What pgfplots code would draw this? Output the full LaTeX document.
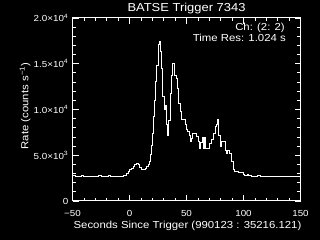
\documentclass[border=0pt]{standalone}
\usepackage{pgfplots}
\pgfplotsset{compat=1.18}
\usepackage{fontspec}
\setmainfont{Liberation Sans}[FakeStretch=1.12]
\pgfplotstableread{
t rate
-50 2770
-47.5 2720
-45 2700
-42 2740
-40 2690
-37 2700
-35 2680
-32 2720
-30 2700
-27 2740
-25 2690
-22 2700
-20 2720
-18 2800
-17 2700
-14 2680
-12 2710
-10 2690
-8.3 2660
-5.4 2840
-2.5 3020
-1.1 3200
0.4 3390
1.9 3570
3.3 3750
4.8 4010
6.3 4120
7.7 4010
9.2 3640
10.7 3390
13.6 3570
15.1 3750
16.5 4010
17.4 4300
18.6 5030
19.5 6120
20.2 7400
20.9 9210
21.8 11000
22.6 13040
23.9 14860
25.0 17050
26.1 17410
27.0 16320
27.9 14500
28.8 11400
30.5 9950
31.4 10490
32.3 8310
33.2 7210
34.0 8850
35.8 11770
36.7 13770
37.5 15050
39.3 13770
41.1 13410
41.9 12320
42.8 11950
43.4 10680
44.3 9760
45.2 8930
48.7 8310
50.2 7800
51.3 7575
52.2 7210
53.1 6480
54.4 6850
55.7 7400
59.2 7030
60.1 6480
61.8 5760
62.7 6370
63.6 6960
64.5 5760
65.4 6960
66.8 5760
70.6 6300
72.1 6670
73.5 7400
75.0 8120
76.5 8310
77.4 8930
78.5 7200
79.4 6000
80.3 6480
84.0 5570
85.3 5210
86.4 5570
87.5 5210
89.6 4300
91.1 3390
92.5 3200
95.4 3090
99.8 2950
101.3 2840
103.1 2900
104.8 2800
106.6 2730
109 2700
112 2740
115 2700
118 2720
121 2690
124 2720
127 2700
130 2730
133 2700
136 2720
139 2690
142 2710
145 2700
148 2720
150 2720
}\lcdata
\begin{document}
\begin{tikzpicture}[x=1bp,y=1bp]
\path[use as bounding box, fill=black] (0,0) rectangle (320,240);
\begin{axis}[
  at={(72.5bp,39bp)}, anchor=south west,
  scale only axis, width=228bp, height=183bp,
  xmin=-50, xmax=150, ymin=0, ymax=20000,
  axis line style={white, line width=1bp},
  every tick/.style={white, line width=0.8bp},
  tick align=inside,
  major tick length=6bp, minor tick length=3.3bp,
  xtick={-50,0,50,100,150},
  xticklabels={−50,0,50,100,150},
  minor x tick num=4,
  ytick={0,5000,10000,15000,20000},
  yticklabels={0,5.0×10\textsuperscript{3},1.0×10\textsuperscript{4},1.5×10\textsuperscript{4},2.0×10\textsuperscript{4}},
  minor y tick num=4,
  scaled ticks=false,
  tick label style={white, font=\fontsize{8.8}{10}\selectfont},
  xticklabel style={anchor=center, yshift=-12bp},
  yticklabel style={anchor=east, inner sep=0pt, xshift=-4bp},
]
\addplot[const plot, white, line width=1bp] table[x=t, y=rate] {\lcdata};
\end{axis}
\node[white, anchor=base, font=\fontsize{11.6}{13}\selectfont] at (186.5,228.3) {BATSE Trigger 7343};
\node[white, anchor=base east, inner sep=0pt, font=\fontsize{10.2}{12}\selectfont] at (285,210) {Ch: (2: 2)};
\node[white, anchor=base east, inner sep=0pt, font=\fontsize{10.2}{12}\selectfont] at (286,198.3) {Time Res: 1.024 s};
\node[white, anchor=base, inner sep=0pt, font=\fontsize{10.2}{12}\selectfont] at (187.5,11.7) {Seconds Since Trigger (990123 : 35216.121)};
\node[white, anchor=base, rotate=90, inner sep=0pt, font=\fontsize{10.2}{12}\selectfont] at (28.3,134) {Rate (counts s\textsuperscript{−1})};
\end{tikzpicture}
\end{document}
